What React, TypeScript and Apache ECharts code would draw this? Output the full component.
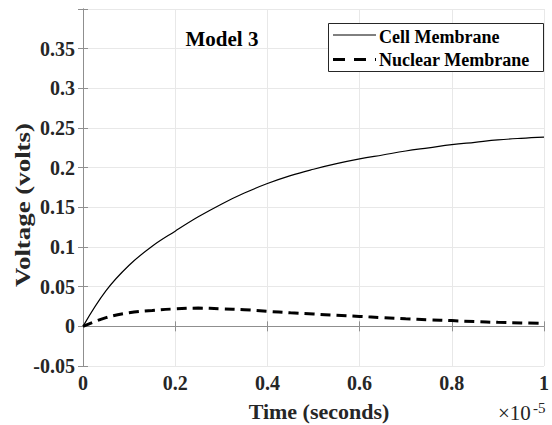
import React, { useEffect, useRef } from "react";
import * as echarts from "echarts";

const timeValues = [0, 0.05, 0.1, 0.15, 0.2, 0.25, 0.3, 0.35, 0.4, 0.45, 0.5, 0.55, 0.6, 0.65, 0.7, 0.75, 0.8, 0.85, 0.9, 0.95, 1.0];
const cellMembrane = [0, 0.045, 0.077, 0.101, 0.12, 0.138, 0.154, 0.168, 0.18, 0.19, 0.198, 0.205, 0.211, 0.216, 0.221, 0.225, 0.229, 0.232, 0.235, 0.237, 0.2385];
const nuclearMembrane = [0, 0.011, 0.017, 0.02, 0.022, 0.023, 0.022, 0.021, 0.019, 0.017, 0.0155, 0.014, 0.0125, 0.011, 0.0095, 0.0083, 0.0072, 0.006, 0.005, 0.0043, 0.0037];
const seriesNames = ["Cell Membrane", "Nuclear Membrane"];
const titleText = "Model 3";
const xAxisTitle = "Time (seconds)";
const yAxisTitle = "Voltage (volts)";
const xExponent = "-5";

const FONT = "Liberation Serif";
const TXT = "#262626";

export default function App() {
  const ref = useRef<HTMLDivElement>(null);
  useEffect(() => {
    if (!ref.current) return;
    const chart = echarts.init(ref.current, undefined, { renderer: "svg" });
    const axisLineStyle = { color: "#8f8f8f", width: 1 };
    const labelStyle = { fontFamily: FONT, fontWeight: "bold" as const, fontSize: 20, color: TXT };
    const boxAxis = {
      axisLine: { show: true, lineStyle: axisLineStyle },
      axisTick: { show: true, inside: true, length: 5, lineStyle: axisLineStyle },
      splitLine: { show: false },
      axisLabel: { show: false },
    };
    chart.setOption({
      animation: false,
      backgroundColor: "#fff",
      grid: { left: 83, right: 6, top: 9, bottom: 59, containLabel: false },
      xAxis: [
        {
          type: "value",
          min: 0,
          max: 1,
          interval: 0.2,
          axisLine: { show: true, lineStyle: axisLineStyle },
          axisTick: { show: true, inside: true, length: 5, lineStyle: axisLineStyle },
          splitLine: { show: true, lineStyle: { color: "#e8e8e8" } },
          axisLabel: { ...labelStyle, margin: 7, formatter: (v: number) => String(Math.round(v * 10) / 10) },
        },
        { type: "value", position: "top", min: 0, max: 1, interval: 0.2, ...boxAxis },
      ],
      yAxis: [
        {
          type: "value",
          min: -0.05,
          max: 0.4,
          interval: 0.05,
          axisLine: { show: true, lineStyle: axisLineStyle },
          axisTick: { show: true, inside: true, length: 5, lineStyle: axisLineStyle },
          splitLine: { show: true, lineStyle: { color: "#e8e8e8" } },
          axisLabel: {
            ...labelStyle,
            margin: 8,
            formatter: (v: number) => {
              const r = Math.round(v * 100) / 100;
              if (Math.abs(r - 0.4) < 1e-6) return "";
              return String(r);
            },
          },
        },
        { type: "value", position: "right", min: -0.05, max: 0.4, interval: 0.05, ...boxAxis },
      ],
      graphic: [
        {
          type: "text",
          x: 222,
          y: 39,
          style: {
            text: titleText, fontFamily: FONT, fontWeight: "bold", fontSize: 21, fill: "#000",
            textAlign: "center", textVerticalAlign: "middle",
          },
        },
        {
          type: "text",
          x: 319,
          y: 411,
          style: {
            text: xAxisTitle, fontFamily: FONT, fontWeight: "bold", fontSize: 22, fill: TXT,
            textAlign: "center", textVerticalAlign: "middle",
          },
        },
        {
          type: "text",
          x: 22,
          y: 205,
          rotation: Math.PI / 2,
          scaleX: 1.25,
          style: {
            text: yAxisTitle, fontFamily: FONT, fontWeight: "bold", fontSize: 21.5, fill: TXT,
            textAlign: "center", textVerticalAlign: "middle",
          },
        },
        {
          type: "text",
          x: 498,
          y: 423,
          style: {
            text: "×10", fontFamily: FONT, fontSize: 21, fill: TXT,
            textAlign: "left", textVerticalAlign: "bottom",
          },
        },
        {
          type: "text",
          x: 533,
          y: 415,
          style: {
            text: xExponent, fontFamily: FONT, fontSize: 15, fill: TXT,
            textAlign: "left", textVerticalAlign: "bottom",
          },
        },
        {
          type: "rect",
          shape: { x: 328.5, y: 23.5, width: 215, height: 48 },
          style: { fill: "#fff", stroke: "#262626", lineWidth: 1 },
          z: 100,
        },
        {
          type: "line",
          shape: { x1: 333, y1: 35, x2: 376, y2: 35 },
          style: { stroke: "#000", lineWidth: 1 },
          z: 101,
        },
        {
          type: "line",
          shape: { x1: 333, y1: 59.5, x2: 376, y2: 59.5 },
          style: { stroke: "#000", lineWidth: 3, lineDash: [12, 9] },
          z: 101,
        },
        {
          type: "text",
          x: 379,
          y: 36.5,
          style: {
            text: seriesNames[0], fontFamily: FONT, fontWeight: "bold", fontSize: 18, fill: "#000",
            textAlign: "left", textVerticalAlign: "middle",
          },
          z: 101,
        },
        {
          type: "text",
          x: 379,
          y: 59.5,
          style: {
            text: seriesNames[1], fontFamily: FONT, fontWeight: "bold", fontSize: 18, fill: "#000",
            textAlign: "left", textVerticalAlign: "middle",
          },
          z: 101,
        },
      ],
      series: [
        {
          name: seriesNames[0],
          type: "line",
          smooth: 0.4,
          symbol: "none",
          data: timeValues.map((t, i) => [t, cellMembrane[i]]),
          lineStyle: { color: "#000", width: 1.2 },
          itemStyle: { color: "#000" },
        },
        {
          name: seriesNames[1],
          type: "line",
          smooth: 0.4,
          symbol: "none",
          data: timeValues.map((t, i) => [t, nuclearMembrane[i]]),
          lineStyle: { color: "#000", width: 3, type: [10, 6] },
          itemStyle: { color: "#000" },
        },
      ],
    });
    return () => chart.dispose();
  }, []);
  return <div ref={ref} style={{ width: 552, height: 425, position: "absolute", left: 0, top: 0 }} />;
}
